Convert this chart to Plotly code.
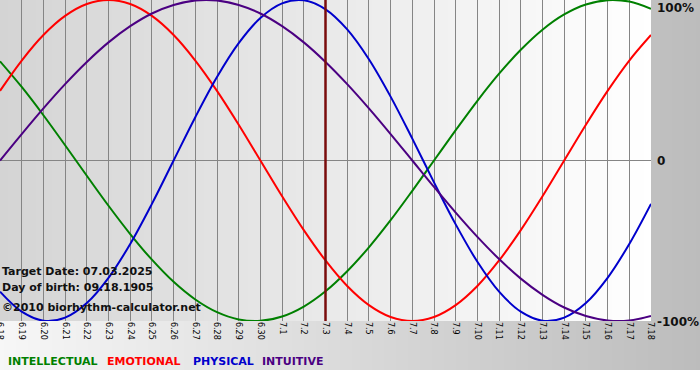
import plotly.graph_objects as go

# ---- data ----
dates = ["6.18", "6.19", "6.20", "6.21", "6.22", "6.23", "6.24", "6.25", "6.26", "6.27",
         "6.28", "6.29", "6.30", "7.1", "7.2", "7.3", "7.4", "7.5", "7.6", "7.7",
         "7.8", "7.9", "7.10", "7.11", "7.12", "7.13", "7.14", "7.15", "7.16", "7.17", "7.18"]

intellectual = [0.618, 0.458, 0.282, 0.095, -0.095, -0.282, -0.458, -0.618, -0.756, -0.866,
                -0.945, -0.990, -0.999, -0.972, -0.910, -0.815, -0.690, -0.541, -0.372, -0.189,
                0.0, 0.189, 0.372, 0.541, 0.690, 0.815, 0.910, 0.972, 0.999, 0.990, 0.945]
emotional = [0.434, 0.623, 0.782, 0.901, 0.975, 1.0, 0.975, 0.901, 0.782, 0.623,
             0.434, 0.223, 0.0, -0.223, -0.434, -0.623, -0.782, -0.901, -0.975, -1.0,
             -0.975, -0.901, -0.782, -0.623, -0.434, -0.223, 0.0, 0.223, 0.434, 0.623, 0.782]
physical = [-0.817, -0.942, -0.998, -0.979, -0.888, -0.731, -0.520, -0.270, 0.0, 0.270,
            0.520, 0.731, 0.888, 0.979, 0.998, 0.942, 0.817, 0.631, 0.398, 0.136,
            -0.136, -0.398, -0.631, -0.817, -0.942, -0.998, -0.979, -0.888, -0.731, -0.520, -0.270]
intuitive = [0.0, 0.165, 0.325, 0.476, 0.614, 0.736, 0.837, 0.916, 0.969, 0.997,
             0.997, 0.969, 0.916, 0.837, 0.736, 0.614, 0.476, 0.325, 0.165, 0.0,
             -0.165, -0.325, -0.476, -0.614, -0.736, -0.837, -0.916, -0.969, -0.997, -0.997, -0.969]

target_label = "7.3"
target_text = "Target Date: 07.03.2025"
birth_text = "Day of birth: 09.18.1905"
copyright_text = "©2010 biorhythm-calculator.net"
y_labels = ["100%", "0", "-100%"]
y_label_vals = [1, 0, -1]

series = [
    ("INTELLECTUAL", intellectual, "#008000"),
    ("EMOTIONAL", emotional, "#ff0000"),
    ("PHYSICAL", physical, "#0000cc"),
    ("INTUITIVE", intuitive, "#4b0082"),
]

# ---- layout geometry ----
W, H = 700, 380
ML, MR, MT, MB = 0, 49, 0, 59
PW, PH = W - ML - MR, H - MT - MB

def px(x):
    return (x - ML) / PW

def py(y):
    return (MT + PH - y) / PH

x_idx = list(range(len(dates)))

fig = go.Figure()
for name, vals, color in series:
    fig.add_trace(go.Scatter(
        x=x_idx, y=vals, mode="lines", name=name,
        line=dict(color=color, width=2, shape="spline", smoothing=1.0),
        hoverinfo="skip", showlegend=False, cliponaxis=False,
    ))

shapes = []
# outer background gradient (light left -> gray right)
step = 4
for x0 in range(0, W, step):
    c = int(round(247 - 59 * (x0 + step / 2) / W))
    shapes.append(dict(type="rect", xref="paper", yref="paper",
                       x0=px(x0), x1=px(min(x0 + step + 2, W)), y0=py(370), y1=py(0),
                       fillcolor=f"rgb({c},{c},{c})", line=dict(width=0), layer="below"))
# plot area gradient (gray left -> white right)
for x0 in range(0, PW, step):
    x1 = min(x0 + step + 2, PW)
    c = int(round(212 + 43 * (x0 + step / 2) / PW))
    c = min(c, 255)
    shapes.append(dict(type="rect", xref="paper", yref="paper",
                       x0=px(x0), x1=px(x1), y0=0, y1=1,
                       fillcolor=f"rgb({c},{c},{c})", line=dict(width=0), layer="below"))
# target date line
ti = dates.index(target_label)
shapes.append(dict(type="line", xref="x", yref="paper", x0=ti, x1=ti, y0=0, y1=1,
                   line=dict(color="#7a0c0c", width=2.5), layer="above"))

annotations = []
font_b = "DejaVu Sans"
for i, t in enumerate([target_text, birth_text]):
    annotations.append(dict(text=f"<b>{t}</b>", xref="paper", yref="paper",
                            x=px(0), y=py(271 + 16 * i), xanchor="left", yanchor="middle",
                            showarrow=False, font=dict(family=font_b, size=11, color="#111")))
annotations.append(dict(text=f"<b>{copyright_text}</b>", xref="paper", yref="paper",
                        x=px(0), y=py(307), xanchor="left", yanchor="middle",
                        showarrow=False, font=dict(family=font_b, size=11, color="#111")))
# right axis labels
for lab, v in zip(y_labels, y_label_vals):
    ypos = {1: py(8), 0: py(161), -1: py(322)}[v]
    annotations.append(dict(text=f"<b>{lab}</b>", xref="paper", yref="paper",
                            x=px(655), y=ypos, xanchor="left", yanchor="middle",
                            showarrow=False, font=dict(family=font_b, size=12, color="#111")))
# legend texts
leg_x = [6, 105, 191, 260]
for (name, vals, color), lx in zip(series, leg_x):
    annotations.append(dict(text=f"<b>{name}</b>", xref="paper", yref="paper",
                            x=px(lx), y=py(362), xanchor="left", yanchor="middle",
                            showarrow=False, font=dict(family=font_b, size=11, color=color)))

fig.update_layout(
    width=W, height=H,
    margin=dict(l=ML, r=MR, t=MT, b=MB, pad=0, autoexpand=False),
    paper_bgcolor="white",
    plot_bgcolor="rgba(0,0,0,0)",
    showlegend=False,
    shapes=shapes,
    annotations=annotations,
    xaxis=dict(range=[-0.0005, len(dates) - 1 + 0.0005], tickmode="array", tickvals=x_idx,
               ticktext=dates, tickangle=90, showgrid=True, gridcolor="#858585", gridwidth=1,
               zeroline=False, showline=False, ticks="", fixedrange=True, automargin=False,
               ticklabeloverflow="allow",
               tickfont=dict(family="DejaVu Sans", size=8, color="#000")),
    yaxis=dict(range=[-1.0, 1.0], showgrid=False, zeroline=True, zerolinecolor="#858585",
               zerolinewidth=1, showticklabels=False, ticks="", fixedrange=True,
               automargin=False),
)

fig.write_html(
    "out.html",
    config={"displayModeBar": False, "staticPlot": True},
    post_script="document.body.style.margin='0';document.body.style.padding='0';"
                "document.body.style.overflow='hidden';",
)
